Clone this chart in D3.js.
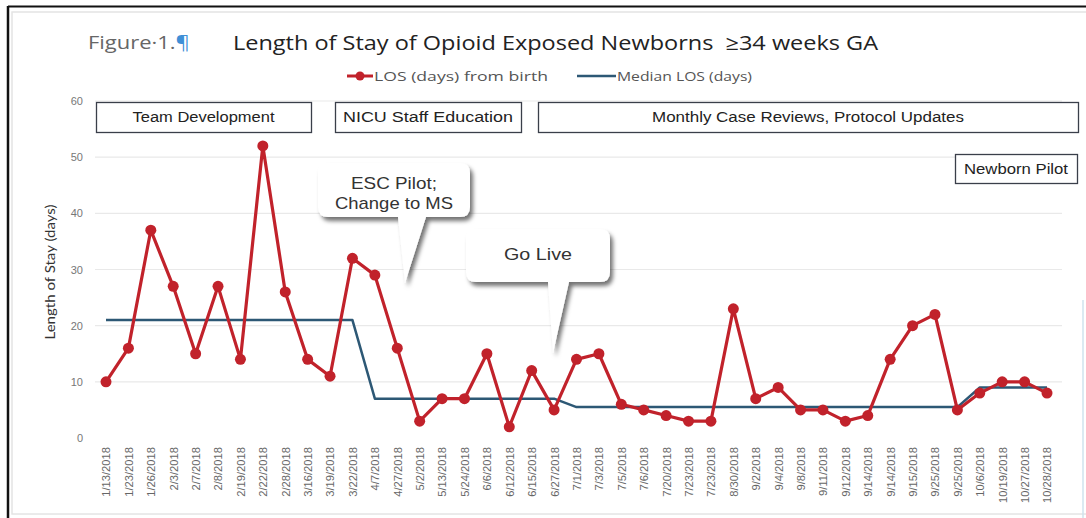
<!DOCTYPE html>
<html>
<head>
<meta charset="utf-8">
<script src="https://cdn.jsdelivr.net/npm/d3@7"></script>
<style>
  html, body { margin: 0; padding: 0; background: #fff; }
  svg { display: block; }
</style>
</head>
<body>
<svg id="chart" width="1086" height="518"></svg>
<script>
// ---- data ----
const dates = ["1/13/2018","1/23/2018","1/26/2018","2/3/2018","2/7/2018","2/8/2018","2/19/2018","2/22/2018","2/28/2018","3/16/2018","3/19/2018","3/22/2018","4/7/2018","4/27/2018","5/2/2018","5/13/2018","5/24/2018","6/6/2018","6/12/2018","6/15/2018","6/27/2018","7/1/2018","7/3/2018","7/5/2018","7/6/2018","7/20/2018","7/23/2018","7/23/2018","8/30/2018","9/2/2018","9/4/2018","9/8/2018","9/11/2018","9/12/2018","9/14/2018","9/14/2018","9/15/2018","9/25/2018","9/25/2018","10/6/2018","10/19/2018","10/27/2018","10/28/2018"];
const losDays = [10,16,37,27,15,27,14,52,26,14,11,32,29,16,3,7,7,15,2,12,5,14,15,6,5,4,3,3,23,7,9,5,5,3,4,14,20,22,5,8,10,10,8];
const medianLos = [21,21,21,21,21,21,21,21,21,21,21,21,7,7,7,7,7,7,7,7,7,5.5,5.5,5.5,5.5,5.5,5.5,5.5,5.5,5.5,5.5,5.5,5.5,5.5,5.5,5.5,5.5,5.5,5.5,9,9,9,9];
const yTicks = [0,10,20,30,40,50,60];
const seriesNames = ["LOS (days) from birth","Median LOS (days)"];
const phaseLabels = ["Team Development","NICU Staff Education","Monthly Case Reviews, Protocol Updates","Newborn Pilot"];
const calloutLabels = [["ESC Pilot;","Change to MS"],["Go Live"]];

const svg = d3.select("#chart");
const RED = "#c1222b", BLUE = "#2d5875";

// defs: shadow
const defs = svg.append("defs");
const f = defs.append("filter").attr("id","shadow").attr("x","-20%").attr("y","-20%").attr("width","150%").attr("height","160%");
f.append("feDropShadow").attr("dx",3).attr("dy",4).attr("stdDeviation",2.2).attr("flood-color","#000").attr("flood-opacity",0.55);

// frame
svg.append("rect").attr("x",12).attr("y",12).attr("width",1080).attr("height",502)
  .attr("fill","none").attr("stroke","#e4e4e4").attr("stroke-width",1.5);
svg.append("line").attr("x1",8).attr("x2",1086).attr("y1",6.5).attr("y2",6.5).attr("stroke","#111").attr("stroke-width",2);
svg.append("line").attr("x1",8).attr("x2",8).attr("y1",6).attr("y2",518).attr("stroke","#111").attr("stroke-width",2.5);
svg.append("line").attr("x1",1083).attr("x2",1083).attr("y1",300).attr("y2",518).attr("stroke","#cfe3ee").attr("stroke-width",1.5);

// scales
const x = d3.scalePoint().domain(d3.range(dates.length)).range([106, 1047]);
const y = d3.scaleLinear().domain([0, 60]).range([438, 101]);

// gridlines
svg.append("g").selectAll("line").data(yTicks.filter(d => d > 0)).join("line")
  .attr("x1", 95).attr("x2", 1062)
  .attr("y1", d => y(d)).attr("y2", d => y(d))
  .attr("stroke", "#e9e9e9").attr("stroke-width", 1.2);

// y axis
const yAxis = svg.append("g").attr("transform","translate(83,0)")
  .call(d3.axisLeft(y).tickValues(yTicks).tickSize(0).tickPadding(0));
yAxis.select(".domain").remove();
yAxis.selectAll("text").attr("font-family","Liberation Sans, Arial, sans-serif").attr("font-size",11).attr("fill","#777");

// x axis
const xAxis = svg.append("g").attr("transform","translate(0,445)")
  .call(d3.axisBottom(x).tickSize(0).tickFormat(i => dates[i]));
xAxis.select(".domain").remove();
xAxis.selectAll("text")
  .attr("font-family","Liberation Sans, Arial, sans-serif").attr("font-size",11.2).attr("fill","#666")
  .attr("transform","rotate(-90)").attr("text-anchor","end")
  .attr("x",-2).attr("y",0).attr("dy","0.35em");

// y title
svg.append("text").attr("transform","translate(55,272) rotate(-90)")
  .attr("text-anchor","middle").attr("font-family","Lato, Open Sans, sans-serif").attr("font-size",13.5).attr("fill","#333")
  .attr("textLength",135).attr("lengthAdjust","spacingAndGlyphs")
  .text("Length of Stay (days)");

// median line
svg.append("path").datum(medianLos)
  .attr("fill","none").attr("stroke",BLUE).attr("stroke-width",2.5).attr("stroke-linejoin","round")
  .attr("d", d3.line().x((d,i) => x(i)).y(d => y(d)));

// LOS line
svg.append("path").datum(losDays)
  .attr("fill","none").attr("stroke",RED).attr("stroke-width",3.2).attr("stroke-linejoin","round")
  .attr("d", d3.line().x((d,i) => x(i)).y(d => y(d)));
svg.append("g").selectAll("circle").data(losDays).join("circle")
  .attr("cx",(d,i) => x(i)).attr("cy", d => y(d)).attr("r",5.5).attr("fill",RED);

// title
const fig = svg.append("text").attr("x",88).attr("y",49).attr("font-family","Open Sans, Lato, sans-serif").attr("font-size",19).attr("fill","#666")
  .attr("textLength",102).attr("lengthAdjust","spacingAndGlyphs");
fig.append("tspan").text("Figure·1.");
fig.append("tspan").attr("fill","#3f8fd6").text("¶");
svg.append("text").attr("x",233).attr("y",50)
  .attr("font-family","Open Sans, Lato, sans-serif").attr("font-size",20).attr("fill","#222").attr("xml:space","preserve")
  .attr("textLength",645).attr("lengthAdjust","spacingAndGlyphs")
  .text("Length of Stay of Opioid Exposed Newborns  \u226534 weeks GA");

// legend
const lg = svg.append("g").attr("font-family","Open Sans, Lato, sans-serif").attr("font-size",13).attr("fill","#555");
lg.append("line").attr("x1",347).attr("x2",373).attr("y1",76).attr("y2",76).attr("stroke",RED).attr("stroke-width",3);
lg.append("circle").attr("cx",360).attr("cy",76).attr("r",4.5).attr("fill",RED);
lg.append("text").attr("x",374).attr("y",80.5).attr("textLength",174).attr("lengthAdjust","spacingAndGlyphs").text(seriesNames[0]);
lg.append("line").attr("x1",577).attr("x2",616).attr("y1",76).attr("y2",76).attr("stroke",BLUE).attr("stroke-width",2.5);
lg.append("text").attr("x",617).attr("y",80.5).attr("textLength",135).attr("lengthAdjust","spacingAndGlyphs").text(seriesNames[1]);

// phase boxes
const boxes = [
  {x:96, y:102, w:215, h:30, t:phaseLabels[0], tl:142},
  {x:335, y:102, w:186, h:30, t:phaseLabels[1], tl:170},
  {x:538, y:102, w:540, h:30, t:phaseLabels[2], tl:312},
  {x:955, y:154, w:122, h:29, t:phaseLabels[3], tl:104}
];
const bg = svg.append("g").selectAll("g").data(boxes).join("g");
bg.append("rect").attr("x",d=>d.x+0.5).attr("y",d=>d.y+0.5).attr("width",d=>d.w).attr("height",d=>d.h)
  .attr("fill","#fff").attr("stroke","#3a3f4a").attr("stroke-width",1.3);
bg.append("text").attr("x",d=>d.x+d.w/2-d.tl/2).attr("y",d=>d.y+d.h/2+5)
  .attr("font-family","Liberation Sans, Arial, sans-serif").attr("font-size",14).attr("fill","#222")
  .attr("textLength",d=>d.tl).attr("lengthAdjust","spacingAndGlyphs")
  .text(d=>d.t);

// callouts
function callout(bx, by, bw, bh, p1, p2, tip, lines, lens, cy0) {
  const r = 10;
  const path = `M${bx+r},${by} H${bx+bw-r} Q${bx+bw},${by} ${bx+bw},${by+r} V${by+bh-r} Q${bx+bw},${by+bh} ${bx+bw-r},${by+bh}
    H${p2} L${tip[0]},${tip[1]} L${p1},${by+bh} H${bx+r} Q${bx},${by+bh} ${bx},${by+bh-r} V${by+r} Q${bx},${by} ${bx+r},${by} Z`;
  const g = svg.append("g");
  g.append("path").attr("d",path).attr("fill","#fff").attr("filter","url(#shadow)");
  lines.forEach((l,i) => g.append("text").attr("x",bx+bw/2-lens[i]/2).attr("y",cy0+i*20)
    .attr("font-family","Liberation Sans, Arial, sans-serif").attr("font-size",17).attr("fill","#333")
    .attr("textLength",lens[i]).attr("lengthAdjust","spacingAndGlyphs").text(l));
}
callout(318, 163, 152, 54, 398, 426, [405, 283], calloutLabels[0], [86, 118], 189);
callout(466, 229, 144, 53, 548, 569, [553, 353], calloutLabels[1], [68], 260);
</script>
</body>
</html>
